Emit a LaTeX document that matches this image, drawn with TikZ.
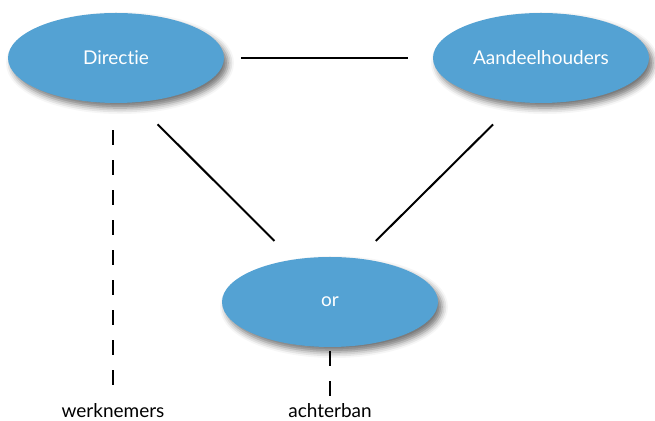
\documentclass[tikz,border=0pt]{standalone}
\usepackage{fontspec}
\setmainfont{Lato}[Ligatures={NoCommon,NoRare,NoDiscretionary}]
\usepackage{xcolor}
\usepackage{tikz}
\usetikzlibrary{shapes.geometric,shadows.blur}

\definecolor{ovalblue}{RGB}{84,162,211}

\begin{document}
\begin{tikzpicture}[
    x=0.5pt, y=-0.5pt,
    party/.style={draw=none, ellipse, fill=ovalblue, minimum width=108pt, minimum height=45pt,
      text=white, font=\fontsize{9.5}{11}\selectfont,
      blur shadow={shadow xshift=2pt, shadow yshift=-2.5pt, shadow blur radius=3pt, shadow opacity=55}},
    base/.style={font=\fontsize{9.5}{11}\selectfont, anchor=base, inner sep=0pt, text height=7pt},
    link/.style={line width=1pt},
    dashlink/.style={line width=1.2pt, dash pattern=on 7.5pt off 7.5pt},
]
\useasboundingbox (0,0) rectangle (655,421);

% Parties
\node[party] (dir) at (116,58) {Directie};
\node[party] (aand) at (541,58) {Aandeelhouders};
\node[party] (or) at (330,302) {or};

% Labels below
\node[base] (wn) at (113,418) {werknemers};
\node[base] (ab) at (330,418) {achterban};

% Relations
\draw[link, shorten <=8.5pt, shorten >=12.5pt] (dir.east) -- (aand.west);
\draw[link, shorten <=15.3pt, shorten >=13pt] (dir.-66.5) -- (or.131.5);
\draw[link, shorten <=15.8pt, shorten >=12.2pt] (aand.-120.5) -- (or.57.3);

\draw[dashlink, shorten <=13.5pt, shorten >=9.5pt] (wn.north |- dir.south) -- (wn.north);
\draw[dashlink, shorten <=2pt, shorten >=3pt] (or.south) -- (ab.north);

\end{tikzpicture}
\end{document}
